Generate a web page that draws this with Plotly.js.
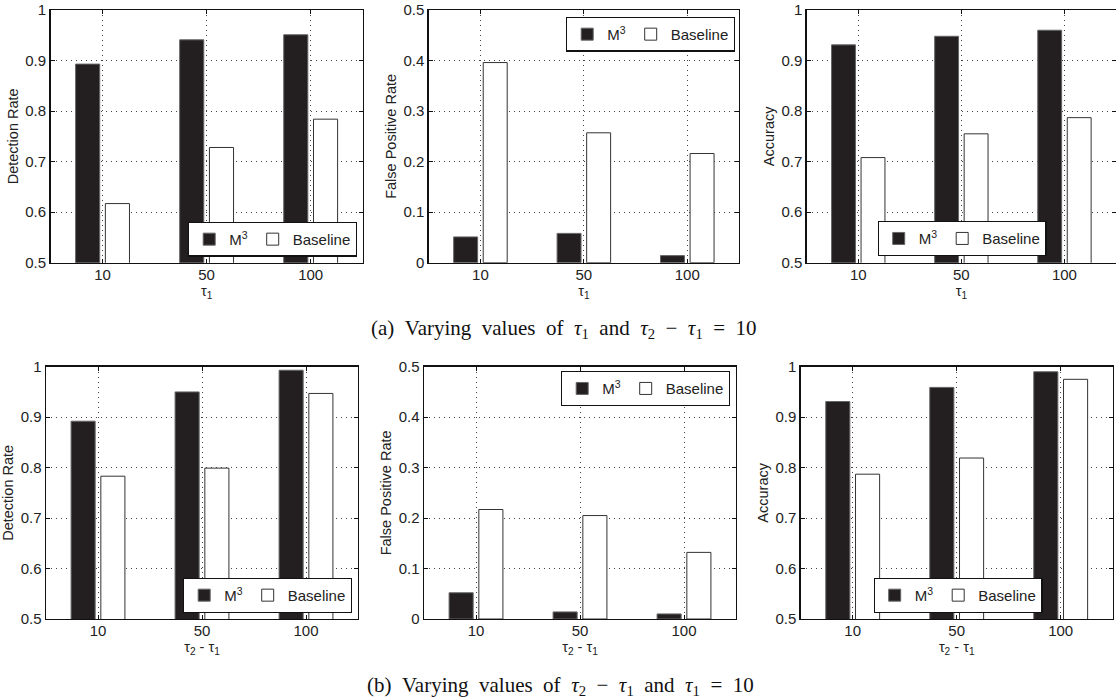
<!DOCTYPE html>
<html><head><meta charset="utf-8">
<script src="https://cdn.plot.ly/plotly-3.0.1.min.js"></script>
<style>html,body{margin:0;padding:0;background:#fff}#chart{width:1116px;height:700px}</style>
</head><body><div id="chart"></div>
<script>
// ---- data ----
const categories = ['10', '50', '100'];
const seriesM3 = 'M<sup>3</sup>';
const seriesBase = 'Baseline';
// (a) varying tau1, tau2 - tau1 = 10
const detectionA_M3 = [0.893, 0.941, 0.951];
const detectionA_Base = [0.617, 0.728, 0.784];
const fprA_M3 = [0.051, 0.058, 0.014];
const fprA_Base = [0.396, 0.257, 0.216];
const accA_M3 = [0.931, 0.948, 0.960];
const accA_Base = [0.708, 0.755, 0.787];
// (b) varying tau2 - tau1, tau1 = 10
const detectionB_M3 = [0.892, 0.950, 0.993];
const detectionB_Base = [0.783, 0.799, 0.947];
const fprB_M3 = [0.052, 0.014, 0.010];
const fprB_Base = [0.217, 0.205, 0.132];
const accB_M3 = [0.931, 0.959, 0.990];
const accB_Base = [0.787, 0.819, 0.975];
const yTitles = ['Detection Rate', 'False Positive Rate', 'Accuracy'];
const xTitleA = 'τ<sub>1</sub>';
const xTitleB = 'τ<sub>2</sub> - τ<sub>1</sub>';
const S = '\u00a0\u00a0';
const captionA = '(a)' + S + 'Varying' + S + 'values' + S + 'of' + S + '<i>τ</i><sub>1</sub>' + S + 'and' + S + '<i>τ</i><sub>2</sub>' + S + '−' + S + '<i>τ</i><sub>1</sub>' + S + '=' + S + '10';
const captionB = '(b)' + S + 'Varying' + S + 'values' + S + 'of' + S + '<i>τ</i><sub>2</sub>' + S + '−' + S + '<i>τ</i><sub>1</sub>' + S + 'and' + S + '<i>τ</i><sub>1</sub>' + S + '=' + S + '10';

// ---- panel geometry / style ----
const W = 1116, H = 700;
const panels = [
  {m3: detectionA_M3, base: detectionA_Base, yt: yTitles[0], xt: xTitleA, yr: [0.5, 1], px: [50.5, 362.7], py: [10, 262.7], leg: {x: 357, y: 256.7, xa: 'right', ya: 'bottom'}},
  {m3: fprA_M3, base: fprA_Base, yt: yTitles[1], xt: xTitleA, yr: [0, 0.5], px: [428.7, 739], py: [10, 262.7], leg: {x: 735, y: 16.7, xa: 'right', ya: 'top'}},
  {m3: accA_M3, base: accA_Base, yt: yTitles[2], xt: xTitleA, yr: [0.5, 1], px: [806.7, 1116], py: [10, 262.7], leg: {x: 962, y: 256, xa: 'center', ya: 'bottom'}},
  {m3: detectionB_M3, base: detectionB_Base, yt: yTitles[0], xt: xTitleB, yr: [0.5, 1], px: [46, 358], py: [366.7, 619], leg: {x: 352, y: 612.7, xa: 'right', ya: 'bottom'}},
  {m3: fprB_M3, base: fprB_Base, yt: yTitles[1], xt: xTitleB, yr: [0, 0.5], px: [424, 736], py: [366.7, 619], leg: {x: 730, y: 371, xa: 'right', ya: 'top'}},
  {m3: accB_M3, base: accB_Base, yt: yTitles[2], xt: xTitleB, yr: [0.5, 1], px: [800.7, 1112.7], py: [366.7, 619], leg: {x: 958, y: 612.7, xa: 'center', ya: 'bottom'}}
];

const FONT = "'Liberation Sans', Arial, Helvetica, sans-serif";
const SERIF = "'Liberation Serif', 'Times New Roman', serif";
const data = [];
const layout = {
  width: W, height: H,
  margin: {l: 0, r: 0, t: 0, b: 0},
  paper_bgcolor: '#fff', plot_bgcolor: '#fff',
  barmode: 'group', bargap: 0.428, bargroupgap: 0.19,
  font: {family: FONT, size: 14, color: '#222'},
  annotations: [],
  showlegend: true
};

panels.forEach((p, i) => {
  const n = i === 0 ? '' : String(i + 1);
  const legName = 'legend' + n;
  const xa = 'x' + n, ya = 'y' + n;
  data.push({
    type: 'bar', x: categories, y: p.m3, name: seriesM3, xaxis: xa, yaxis: ya, legend: legName,
    marker: {color: '#231f20', line: {color: '#666', width: 1}}
  });
  data.push({
    type: 'bar', x: categories, y: p.base, name: seriesBase, xaxis: xa, yaxis: ya, legend: legName,
    marker: {color: '#ffffff', line: {color: '#333', width: 1}}
  });
  const common = {
    showline: true, linecolor: '#111', linewidth: 1.4, mirror: 'ticks',
    ticks: 'inside', ticklen: 4, tickcolor: '#111',
    showgrid: true, gridcolor: '#444', gridwidth: 1, griddash: '1px,4px',
    zeroline: false, tickfont: {family: FONT, size: 15, color: '#222'}
  };
  layout['xaxis' + n] = Object.assign({}, common, {
    type: 'category', range: [-0.5, 2.5], anchor: ya,
    domain: [p.px[0] / W, p.px[1] / W], ticklabelstandoff: -2,
    title: {text: p.xt, font: {family: FONT, size: 14.5, color: '#222'}, standoff: 1}
  });
  layout['yaxis' + n] = Object.assign({}, common, {
    range: p.yr, dtick: 0.1, anchor: xa,
    domain: [1 - p.py[1] / H, 1 - p.py[0] / H],
    title: {text: p.yt, font: {family: FONT, size: 14.5, color: '#222'}, standoff: 3}
  });
  layout[legName] = {
    orientation: 'h', x: p.leg.x / W, y: 1 - p.leg.y / H, xref: 'paper', yref: 'paper',
    xanchor: p.leg.xa, yanchor: p.leg.ya,
    bgcolor: '#fff', bordercolor: '#111', borderwidth: 1.2,
    font: {family: FONT, size: 15, color: '#222'},
    traceorder: 'normal', itemclick: false, itemwidth: 30
  };
});

layout.annotations.push({
  text: captionA, xref: 'paper', yref: 'paper', x: 564 / W, y: 1 - 329 / H,
  xanchor: 'center', yanchor: 'middle', showarrow: false,
  font: {family: SERIF, size: 21, color: '#111'}
});
layout.annotations.push({
  text: captionB, xref: 'paper', yref: 'paper', x: 560 / W, y: 1 - 686 / H,
  xanchor: 'center', yanchor: 'middle', showarrow: false,
  font: {family: SERIF, size: 21, color: '#111'}
});

Plotly.newPlot('chart', data, layout, {displayModeBar: false, staticPlot: true});
</script>
</body></html>
